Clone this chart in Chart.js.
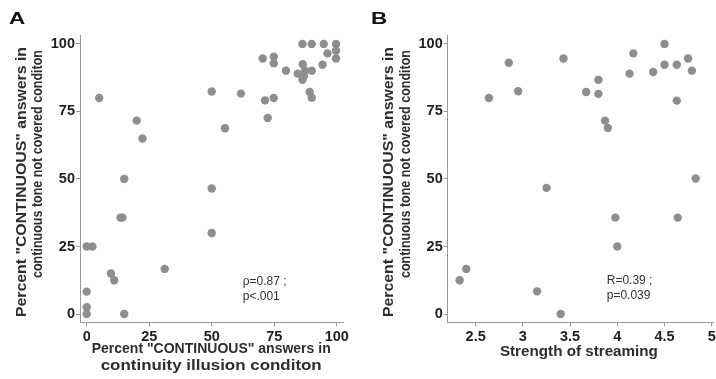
<!DOCTYPE html>
<html><head><meta charset="utf-8">
<script src="https://cdn.jsdelivr.net/npm/chart.js@4.4.0/dist/chart.umd.min.js"></script>
<style>
html,body{margin:0;padding:0;width:716px;height:379px;overflow:hidden;background:#fff;position:relative;}
#wa{position:absolute;left:0;top:0;width:358px;height:379px;}
#wb{position:absolute;left:358px;top:0;width:362px;height:379px;}
.lbl{position:absolute;width:30px;text-align:center;font:bold 17px 'Liberation Sans',Arial,sans-serif;color:#111;line-height:20px;transform:scaleX(1.32);}
</style></head><body>
<div id="wa"><canvas id="ca" width="358" height="379"></canvas></div>
<div id="wb"><canvas id="cb" width="362" height="379"></canvas></div>
<div class="lbl" style="left:1.7px;top:9.4px">A</div>
<div class="lbl" style="left:363.5px;top:9.2px">B</div>
<script>
// Panel A: percent CONTINUOUS in illusion condition vs tone-not-covered condition
const illusionPct = [0,0,0,0,2.3,5,9.7,11,13.5,14.3,15,15,20,22.3,31.2,50,50,50,55.3,61.7,70.4,71.3,72.4,74.8,74.8,74.8,79.7,84.4,86.3,86.4,87.3,86.9,86.3,89.2,90,90,90,94.3,94.8,96.3,99.7,99.7,99.7];
const tonePctA    = [0,2.5,8.3,25,25,80,15,12.5,35.7,35.7,50,0,71.6,65,16.7,82.4,46.5,30,68.8,81.6,94.6,79.1,72.6,95.3,92.8,80,90.1,89,100,92.5,90.1,88.1,86.7,82.2,80.1,100,90.1,92.3,100,96.5,100,97.5,94.6];
// Panel B: strength of streaming vs tone-not-covered condition
const streaming = [2.33,2.40,2.64,2.85,2.95,3.15,3.25,3.40,3.43,3.67,3.80,3.80,3.87,3.90,3.98,4.00,4.13,4.17,4.38,4.50,4.50,4.63,4.63,4.64,4.75,4.79,4.83];
const tonePctB  = [12.5,16.7,80,93,82.5,8.4,46.7,0,94.6,82.2,86.7,81.5,71.6,68.9,35.7,25,89,96.5,89.6,100,92.3,92.3,79,35.7,94.6,90.1,50.2];
const xTicksA = [0,25,50,75,100];
const xTicksB = [2.5,3,3.5,4,4.5,5];
const yTicks  = [0,25,50,75,100];
const yTitle  = ['Percent "CONTINUOUS" answers in','continuous tone not covered conditon'];
const xTitleA = ['Percent "CONTINUOUS" answers in','continuity illusion conditon'];
const xTitleB = ['Strength of streaming'];
const statsA = ['\u03c1=0.87 ;','p<.001'];
const statsB = ['R=0.39 ;','p=0.039'];

const FF = "'Liberation Sans', Arial, sans-serif";
Chart.defaults.font.family = FF;

const statsPlugin = {
  id:'stats',
  afterDatasetsDraw(chart, args, opts){
    const {ctx} = chart; const x = chart.scales.x, y = chart.scales.y;
    ctx.save();
    ctx.font = '12px ' + FF; ctx.fillStyle = '#333';
    ctx.textBaseline = 'middle'; ctx.textAlign = 'left';
    opts.lines.forEach((t,i)=>ctx.fillText(t, x.getPixelForValue(opts.x), y.getPixelForValue(opts.y[i])));
    ctx.restore();
  }
};

// axis titles, each line fitted to the length it has in the figure
const titlePlugin = {
  id:'axisTitles',
  afterDraw(chart, args, opts){
    const ctx = chart.ctx, ca = chart.chartArea;
    ctx.save(); ctx.fillStyle = '#2e2e2e'; ctx.textBaseline = 'middle'; ctx.textAlign = 'center';
    opts.items.forEach(it=>{
      ctx.font = 'bold ' + it.size + 'px ' + FF;
      const w = ctx.measureText(it.text).width;
      let x, y;
      if (it.rot) { x = ca.left + it.dx; y = ca.top + it.dy; }
      else { x = (ca.left + ca.right)/2 + it.dx; y = ca.bottom + it.dy; }
      ctx.save(); ctx.translate(x, y);
      if (it.rot) ctx.rotate(-Math.PI/2);
      ctx.scale(it.len / w, 1);
      ctx.fillText(it.text, 0, 0);
      ctx.restore();
    });
    ctx.restore();
  }
};

function makeChart(id, xs, ys, cfg){
  const pts = xs.map((v,i)=>({x:v, y:ys[i]}));
  return new Chart(document.getElementById(id), {
    type:'scatter',
    data:{datasets:[{data:pts, backgroundColor:'#8e8e92', borderWidth:0, pointRadius:4.2, pointHoverRadius:4.2}]},
    plugins:[statsPlugin, titlePlugin],
    options:{
      responsive:false, animation:false, devicePixelRatio:1,
      layout:{padding:{left:cfg.padLeft, right:cfg.padRight, top:35, bottom:4}},
      plugins:{legend:{display:false}, tooltip:{enabled:false},
        stats:{lines:cfg.stats, x:cfg.statX, y:cfg.statY},
        axisTitles:{items:cfg.titles}},
      scales:{
        x:{type:'linear', min:cfg.xMin, max:cfg.xMax,
          afterBuildTicks:s=>{s.ticks = cfg.xTicks.map(v=>({value:v}));},
          afterFit:s=>{s.height = 53;},
          grid:{drawOnChartArea:false, drawTicks:true, tickLength:4, color:'#9a9a9a', lineWidth:1},
          border:{display:true, color:'#9a9a9a', width:1},
          ticks:{padding:2, color:'#1e1e1e', font:{size:14.5, weight:'bold'}, maxRotation:0, autoSkip:false,
            callback:v=>String(v)},
          title:{display:false}
        },
        y:{type:'linear', min:-2.95, max:103.3,
          afterBuildTicks:s=>{s.ticks = yTicks.map(v=>({value:v}));},
          afterFit:s=>{s.width = cfg.yWidth;},
          grid:{drawOnChartArea:false, drawTicks:true, tickLength:4, color:'#9a9a9a', lineWidth:1},
          border:{display:true, color:'#9a9a9a', width:1},
          ticks:{padding:1, color:'#1e1e1e', font:{size:14.5, weight:'bold'}, autoSkip:false,
            callback:v=>String(v)},
          title:{display:false}
        }
      }
    }
  });
}

const yTitleItems = [
  {text:yTitle[0], rot:true, dx:-58.5, dy:147, len:270, size:15},
  {text:yTitle[1], rot:true, dx:-42.2, dy:129, len:228, size:15}
];

makeChart('ca', illusionPct, tonePctA, {
  padLeft:0, padRight:15, yWidth:80, xMin:-2.68, xMax:102.5, xTicks:xTicksA,
  titles: yTitleItems.concat([
    {text:xTitleA[0], dx:-0.3, dy:26.6, len:239, size:15},
    {text:xTitleA[1], dx:-0.3, dy:44.2, len:221, size:15}
  ]),
  stats:statsA, statX:62.4, statY:[11.85,6.3]
});
makeChart('cb', streaming, tonePctB, {
  padLeft:10, padRight:6.5, yWidth:79.7, xMin:2.2034, xMax:5.019, xTicks:xTicksB,
  titles: yTitleItems.concat([
    {text:xTitleB[0], dx:-1.7, dy:29.7, len:158, size:15}
  ]),
  stats:statsB, statX:3.888, statY:[12.4,6.67]
});
</script>
</body></html>
